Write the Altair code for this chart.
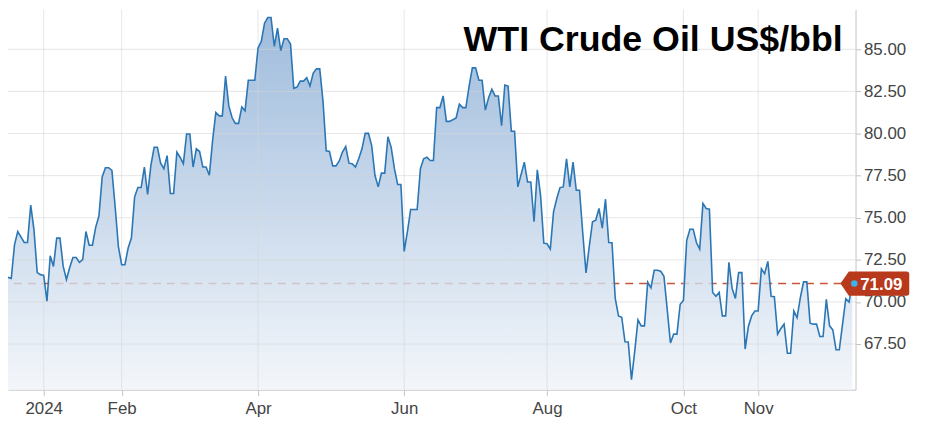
import altair as alt
import pandas as pd

TITLE = "WTI Crude Oil US$/bbl"

# trading-day index and closing price (US$/bbl)
DAYS = [0, 1, 2, 3, 5, 6, 7, 8, 9, 10, 11, 12, 13, 14, 15, 16, 17, 18, 19, 20,
        21, 22, 23, 24, 25, 26, 27, 28, 29, 30, 31, 32, 33, 34, 35, 36, 37, 38, 39, 40,
        41, 42, 43, 44, 45, 46, 47, 48, 49, 50, 51, 52, 53, 54, 55, 56, 57, 58, 59, 60,
        61, 62, 63, 64, 65, 66, 67, 68, 69, 70, 71, 72, 73, 74, 75, 76, 77, 78, 79, 80,
        81, 82, 83, 84, 85, 86, 87, 88, 89, 90, 91, 92, 93, 94, 95, 96, 97, 98, 99, 100,
        101, 102, 103, 104, 105, 106, 107, 108, 109, 110, 111, 112, 113, 114, 115, 116, 117, 118, 119, 120,
        121, 122, 123, 124, 125, 126, 127, 128, 129, 130, 131, 132, 133, 134, 135, 136, 138, 139, 140,
        141, 142, 143, 144, 145, 146, 147, 148, 149, 150, 151, 152, 153, 154, 155, 156, 157, 159, 160,
        161, 162, 163, 164, 165, 166, 167, 168, 169, 170, 171, 172, 173, 174, 175, 176, 177, 178, 179, 180,
        181, 182, 183, 184, 185, 186, 187, 188, 189, 190, 191, 192, 193, 194, 195, 196, 197, 198, 199, 200,
        201, 202, 203, 204, 205, 206, 207, 208, 209, 210, 211, 212, 213, 214, 215, 216, 217, 218, 219, 220,
        221, 222, 223, 224, 225, 226, 227, 228, 229, 230, 231, 232, 233, 234, 235, 236, 237, 238, 239, 240,
        241, 242, 243, 244, 245, 246, 247, 248, 249, 250, 251, 252, 253, 254, 255, 256, 257, 258, 259, 260]

PRICES = [71.46, 71.39, 73.39, 74.18, 73.53, 73.53, 75.75, 74.28, 71.74, 71.62, 71.58, 70.05, 72.74, 72.11, 73.79, 73.79, 72.11, 71.33, 72.04, 72.64,
          72.64, 72.35, 72.51, 74.18, 73.37, 73.37, 74.43, 75.10, 77.42, 77.97, 77.97, 77.81, 75.65, 73.29, 72.21, 72.21, 73.20, 73.79, 76.24, 76.79,
          76.79, 78.01, 76.38, 78.11, 79.18, 79.18, 78.24, 77.91, 78.69, 76.44, 76.44, 78.89, 78.59, 78.21, 79.97, 79.97, 78.01, 79.09, 78.93, 78.01,
          78.01, 77.52, 79.58, 81.25, 81.05, 81.05, 83.41, 81.64, 80.95, 80.60, 80.60, 81.58, 81.35, 83.16, 83.16, 83.16, 85.08, 85.47, 86.55, 86.89,
          86.89, 85.18, 86.26, 84.92, 85.63, 85.63, 85.31, 82.68, 82.76, 83.11, 83.11, 83.31, 82.82, 83.59, 83.84, 83.84, 81.94, 78.97, 78.93, 78.08,
          78.08, 78.37, 78.90, 79.23, 78.24, 78.21, 78.01, 78.50, 79.09, 80.01, 80.01, 79.28, 77.52, 76.83, 77.65, 77.65, 79.81, 79.18, 77.91, 76.97,
          76.97, 73.00, 74.18, 75.49, 75.49, 75.49, 77.91, 78.50, 78.59, 78.40, 78.40, 81.54, 81.54, 82.23, 80.72, 80.72, 80.92, 81.74, 81.54,
          81.54, 82.82, 83.90, 83.90, 83.16, 83.16, 81.39, 82.13, 82.63, 82.23, 82.23, 80.46, 82.88, 82.82, 80.13, 80.13, 76.83, 78.30, 77.12,
          77.12, 74.76, 77.85, 76.34, 73.49, 73.45, 73.14, 75.35, 76.14, 76.79, 76.83, 78.50, 76.83, 78.30, 76.63, 76.63, 74.08, 71.72, 73.29, 74.76,
          74.86, 75.55, 74.38, 76.10, 73.53, 73.51, 70.21, 69.17, 69.09, 67.63, 67.62, 65.38, 67.06, 68.93, 68.58, 68.58, 71.17, 70.84, 71.88, 71.88,
          71.82, 71.52, 69.56, 67.56, 68.09, 68.09, 69.86, 70.09, 73.64, 74.32, 74.32, 73.53, 73.14, 75.85, 75.55, 75.51, 70.56, 70.33, 70.56, 69.17,
          69.17, 72.35, 70.80, 70.21, 71.74, 71.74, 67.20, 68.54, 69.17, 69.46, 69.46, 71.96, 71.68, 72.41, 70.34, 70.31, 68.09, 68.42, 68.68, 66.95,
          66.95, 69.46, 69.07, 70.25, 71.19, 71.19, 68.74, 68.68, 68.68, 67.95, 67.95, 70.15, 68.58, 68.34, 67.16, 67.16, 68.68, 70.19, 69.99, 71.09]

X_TICK_DAYS = [11, 35, 77, 122, 166, 208, 231]
X_TICK_LABELS = ["2024", "Feb", "Apr", "Jun", "Aug", "Oct", "Nov"]
Y_TICKS = [67.5, 70.0, 72.5, 75.0, 77.5, 80.0, 82.5, 85.0]

X_DOMAIN = [0, 261]
Y_DOMAIN = [64.79, 87.36]

FONT = "Liberation Sans"

df = pd.DataFrame({"day": DAYS, "price": PRICES})
last = df.iloc[[-1]].reset_index(drop=True)

label_expr = " : ".join(
    f"datum.value == {d} ? '{l}'" for d, l in zip(X_TICK_DAYS, X_TICK_LABELS)
) + " : ''"

x_axis = alt.Axis(values=X_TICK_DAYS, labelExpr=label_expr, grid=False, title=None,
                  domainColor="#c4c4c4", tickColor="#c4c4c4", tickSize=6,
                  labelFontSize=17, labelColor="#444444", labelFont=FONT,
                  labelPadding=5, labelFlush=False, labelOverlap=False)
y_axis = alt.Axis(orient="right", values=Y_TICKS, format=".2f", grid=False, title=None,
                  domainColor="#c4c4c4", tickColor="#c4c4c4", tickSize=5,
                  labelFontSize=17, labelColor="#444444", labelFont=FONT,
                  labelPadding=3, labelFlush=False, labelOverlap=False)

xs = alt.Scale(domain=X_DOMAIN, nice=False, zero=False)
ys = alt.Scale(domain=Y_DOMAIN, nice=False, zero=False)

rule_last = alt.Chart(last).mark_rule(color="#c8543a", strokeDash=[8, 6], strokeWidth=1.5).encode(
    y=alt.Y("price:Q", scale=ys, axis=y_axis)
)

area = alt.Chart(df).mark_area(
    opacity=0.8,
    color=alt.Gradient(
        gradient="linear",
        stops=[alt.GradientStop(color="#87abd4", offset=0),
               alt.GradientStop(color="#f0f4f9", offset=1)],
        x1=1, x2=1, y1=0, y2=1,
    ),
).encode(
    x=alt.X("day:Q", scale=xs, axis=x_axis),
    y=alt.Y("price:Q", scale=ys, axis=y_axis),
    y2=alt.Y2(datum=Y_DOMAIN[0]),
)

hgrid = alt.Chart(pd.DataFrame({"v": Y_TICKS})).mark_rule(color="#d4d4d4", opacity=0.6, strokeWidth=1).encode(
    y=alt.Y("v:Q", scale=ys, axis=y_axis)
)
vgrid = alt.Chart(pd.DataFrame({"d": X_TICK_DAYS})).mark_rule(color="#d4d4d4", opacity=0.6, strokeWidth=1).encode(
    x=alt.X("d:Q", scale=xs, axis=x_axis)
)

line = alt.Chart(df).mark_line(color="#2b76b4", strokeWidth=1.6).encode(
    x=alt.X("day:Q", scale=xs, axis=x_axis),
    y=alt.Y("price:Q", scale=ys, axis=y_axis),
)

title = alt.Chart(pd.DataFrame({"t": [TITLE]})).mark_text(
    align="right", baseline="alphabetic", font=FONT, fontSize=36, fontWeight="bold", color="black"
).encode(x=alt.value(841), y=alt.value(42), text="t:N")

CALLOUT = ("M -0.34 0 L -0.1 -0.35 L 1.56 -0.35 Q 1.64 -0.35 1.64 -0.27 "
           "L 1.64 0.27 Q 1.64 0.35 1.56 0.35 L -0.1 0.35 Z")

callout = alt.Chart(last).mark_point(
    shape=CALLOUT, size=4900, filled=True, fill="#b9391c", opacity=1, strokeWidth=0
).encode(
    x=alt.X("day:Q", scale=xs, axis=x_axis),
    y=alt.Y("price:Q", scale=ys, axis=y_axis),
)
callout_text = alt.Chart(last).mark_text(
    align="left", baseline="middle", dx=8, dy=1, color="white", font=FONT, fontSize=17, fontWeight="bold"
).encode(
    x=alt.X("day:Q", scale=xs, axis=x_axis),
    y=alt.Y("price:Q", scale=ys, axis=y_axis),
    text=alt.Text("price:Q", format=".2f"),
)
dot = alt.Chart(last).mark_point(
    shape="circle", size=42, filled=True, color="#3cb2ef", opacity=1, xOffset=2
).encode(
    x=alt.X("day:Q", scale=xs, axis=x_axis),
    y=alt.Y("price:Q", scale=ys, axis=y_axis),
)

chart = alt.layer(
    rule_last, area, hgrid, vgrid, line, title, callout, callout_text, dot
).properties(
    width=854, height=383,
    padding={"left": 0, "top": 0, "right": 72, "bottom": 32},
    autosize=alt.AutoSizeParams(type="none"),
).configure_view(stroke=None)

chart.save("out.html", embed_options={"renderer": "svg", "actions": False})
